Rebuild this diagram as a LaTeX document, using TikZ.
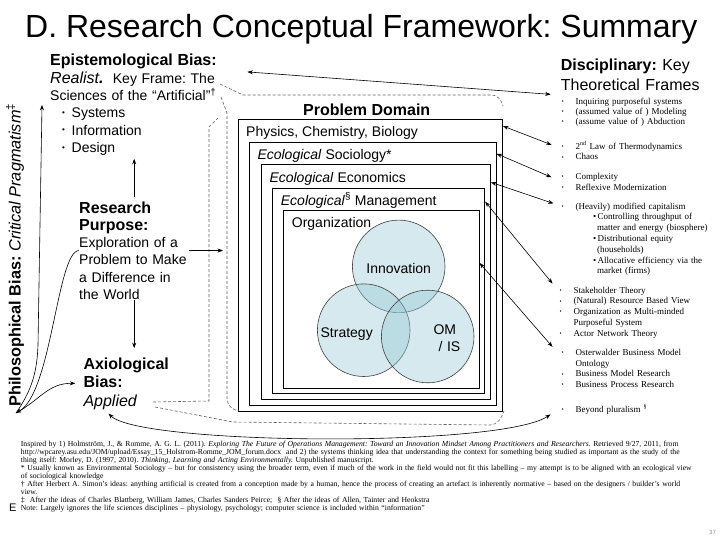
\documentclass[tikz,border=0pt]{standalone}
\usepackage{fontspec}
\setmainfont{Liberation Sans}
\newfontfamily\serifnote{Liberation Serif}
\usetikzlibrary{arrows.meta}
\frenchspacing
\definecolor{vennblue}{RGB}{150,200,212}
\definecolor{bracketgray}{RGB}{95,95,95}
\newcommand{\rbul}{\makebox[14pt][l]{\fontsize{6}{6}\selectfont\raisebox{0.8pt}{•}}}
\newcommand{\lbul}{\makebox[9.5pt][l]{\raisebox{2.5pt}{\fontsize{8}{8}\selectfont•}}}
\begin{document}
\begin{tikzpicture}[x=1pt,y=-1pt,>={Stealth[length=5.5pt,width=4pt]},
  head/.style={inner sep=0pt,font=\fontsize{16}{19}\selectfont\bfseries},
  body/.style={inner sep=0pt,font=\fontsize{14}{17.4}\selectfont,align=left},
  frame/.style={draw,line width=0.9pt,inner sep=0pt,anchor=north west},
  venn/.style={circle,draw=black!75,line width=0.6pt,fill=vennblue,fill opacity=0.4,minimum size=92.6pt,inner sep=0pt},
  theory/.style={inner sep=0pt,anchor=base west,text width=160pt,align=left,font=\serifnote\fontsize{9}{10.8}\selectfont},
  bracket/.style={draw=bracketgray,dash pattern=on 3pt off 2pt,line width=0.6pt},
  link/.style={<->,line width=0.6pt}]
  \useasboundingbox (0,0) rectangle (728,546);
  \node[anchor=base west,inner sep=0pt,font=\fontsize{32}{36}\selectfont] (title) at (25,37) {D. Research Conceptual Framework: Summary};

  \node[body,anchor=base west,text width=185pt] (epi) at (50,65.7) {{\fontsize{16}{17.4}\selectfont\bfseries Epistemological Bias:}\\
    {\fontsize{16}{17.4}\selectfont\itshape Realist\textbf{.}}\ \ Key Frame: The\\
    Sciences of the “Artificial”\textsuperscript{†}\\
    \hspace*{12pt}\lbul Systems\\
    \hspace*{12pt}\lbul Information\\
    \hspace*{12pt}\lbul Design};
  \node[body,anchor=base west,text width=160pt,font=\fontsize{16}{20}\selectfont] (disc) at (560.7,70) {\textbf{Disciplinary:} Key\\Theoretical Frames};

  \node[head,anchor=base] (pdom) at (366.7,115.5) {Problem Domain};
  \node[frame,minimum width=264pt,minimum height=292pt] (box1) at (238,119) {};
  \node[frame,minimum width=246.4pt,minimum height=263.6pt] (box2) at (249.3,141.7) {};
  \node[frame,minimum width=229.3pt,minimum height=235pt] (box3) at (260.7,164.3) {};
  \node[frame,minimum width=212pt,minimum height=205.6pt] (box4) at (272.3,187.7) {};
  \node[frame,minimum width=195.4pt,minimum height=177.7pt] (box5) at (283.3,210) {};
  \node[body,anchor=base west] (phys) at (246,136.7) {Physics, Chemistry, Biology};
  \node[body,anchor=base west] (soc) at (257.3,159.3) {\textit{Ecological} Sociology*};
  \node[body,anchor=base west] (econ) at (269.3,182.3) {\textit{Ecological} Economics};
  \node[body,anchor=base west] (mgmt) at (280.7,205) {\textit{Ecological}\textsuperscript{§} Management};
  \node[body,anchor=base west] (org) at (291.7,227.7) {Organization};

  \node[venn] (cinn) at (398.7,266.4) {};
  \node[venn] (cstr) at (363.7,330.2) {};
  \node[venn] (com) at (427.7,336.5) {};
  \node[body,anchor=base] (inn) at (398.7,273.4) {Innovation};
  \node[body,anchor=base] (str) at (346.7,337.3) {Strategy};
  \node[body,anchor=base west,text width=40pt] (om) at (433.3,334) {OM\\\hspace*{5pt}/ IS};

  \node[rotate=90,inner sep=0pt,font=\fontsize{16.3}{18}\selectfont] (philo) at (15,255) {\textbf{Philosophical Bias:} \textit{Critical Pragmatism}\textsuperscript{‡}};
  \coordinate (pbase) at (16,413);
  \node[body,anchor=base west,text width=110pt,font=\fontsize{14}{17.5}\selectfont] (purpose) at (79,213) {{\fontsize{16}{20.5}\selectfont\bfseries Research\\Purpose:}\\[-1pt]Exploration of a\\Problem to Make\\a Difference in\\the World};
  \node[body,anchor=base west,text width=90pt,font=\fontsize{14}{18.5}\selectfont] (axio) at (83.3,369) {{\fontsize{16}{20}\selectfont\bfseries Axiological\\Bias:}\\{\fontsize{16}{18.5}\selectfont\itshape Applied}};

  \node[theory,font=\serifnote\fontsize{9}{10}\selectfont] (thFrames) at (561.5,104.7) {\rbul Inquiring purposeful systems\\
    \rbul (assumed value of ) Modeling\\
    \rbul (assume value of ) Abduction};
  \node[theory] (thPhys) at (561.5,149) {\rbul 2\textsuperscript{nd} Law of Thermodynamics\\
    \rbul Chaos};
  \node[theory] (thSoc) at (561.5,179.7) {\rbul Complexity\\
    \rbul Reflexive Modernization};
  \node[theory] (thEcon) at (561.5,209) {\rbul (Heavily) modified capitalism\\
    \hspace*{31.5pt}\makebox[4.5pt][l]{•}Controlling throughput of\\
    \hspace*{35.5pt}matter and energy (biosphere)\\
    \hspace*{31.5pt}\makebox[4.5pt][l]{•}Distributional equity\\
    \hspace*{35.5pt}(households)\\
    \hspace*{31.5pt}\makebox[4.5pt][l]{•}Allocative efficiency via the\\
    \hspace*{35.5pt}market (firms)};
  \node[theory] (thMgmt) at (559.5,293) {\rbul Stakeholder Theory\\
    \rbul (Natural) Resource Based View\\
    \rbul Organization as Multi-minded\\
    \hspace*{14pt}Purposeful System\\
    \rbul Actor Network Theory};
  \node[theory] (thOrg) at (561.5,355.3) {\rbul Osterwalder Business Model\\
    \hspace*{14pt}Ontology\\
    \rbul Business Model Research\\
    \rbul Business Process Research};
  \node[theory] (thPlur) at (561.5,412.3) {\rbul Beyond pluralism \textsuperscript{§}};

  \coordinate (aLtop) at (227,113);
  \draw[bracket] (220,84) -- (243,95) -- (492,95) .. controls (498,95) and (501,100) .. (503,106);
  \draw[bracket] (221,97) -- (aLtop) -- (227,398) .. controls (227,405) and (232,410) .. (239,411);
  \draw[bracket] (153,402) -- (209,401) -- (209,127) -- (218,118);
  \draw[bracket] (155,407) -- (233,422) -- (490,425) .. controls (497,425) and (502,418) .. (504,411);

  \draw[link] ([xshift=12pt,yshift=-18pt]epi.north east) -- ([xshift=-10pt,yshift=-4pt]disc.south west);
  \draw[link] ([yshift=-7pt]box1.north east) -- ([xshift=-10pt,yshift=-4pt]thPhys.north west);
  \draw[link] ([yshift=-12pt]box2.north east) -- ([xshift=-10pt,yshift=-4pt]thSoc.north west);
  \draw[link] ([yshift=-18pt]box3.north east) -- ([xshift=-8pt,yshift=-1pt]thEcon.north west);
  \draw[link] ([yshift=-14pt]box4.north east) -- ([xshift=-7pt,yshift=3pt]thMgmt.north west);
  \draw[link] ([yshift=-53pt]box5.north east) -- ([xshift=-9pt,yshift=2pt]thOrg.north west);
  \draw[link] ([xshift=-20pt,yshift=-4pt]axio.south) .. controls (140,445) and (500,448) .. ([xshift=-11pt]thPlur.south west);

  \draw[->,line width=0.6pt,shorten <=4pt,shorten >=3pt] (purpose.north) -- (purpose.north |- epi.south);
  \draw[->,line width=0.6pt,shorten >=9pt] (purpose.south) -- (purpose.south |- axio.north);
  \draw[->,line width=0.6pt,shorten >=4pt] (purpose.east) -- (purpose.east -| aLtop);
  \draw[->,line width=0.6pt] (pbase) .. controls (32,390) and (37,372) .. (38,345) -- ([xshift=-8pt]epi.west);
  \draw[->,line width=0.6pt] (pbase) .. controls (40,400) and (48,383) .. ([xshift=-8pt]axio.west);
  \draw[->,line width=0.6pt] (purpose.west) .. controls (57,251) and (52,393) .. (pbase);

  \node[inner sep=0pt,anchor=base west,text width=720pt,align=left,font=\serifnote\fontsize{7.7}{7.95}\selectfont] (notes) at (20.7,446.7) {Inspired by 1) Holmström, J., \& Romme, A. G. L. (2011). \textit{Exploring The Future of Operations Management: Toward an Innovation Mindset Among Practitioners and Researchers.} Retrieved 9/27, 2011, from\\
    http://wpcarey.asu.edu/JOM/upload/Essay\_15\_Holstrom-Romme\_JOM\_forum.docx\ \ and 2) the systems thinking idea that understanding the context for something being studied as important as the study of the\\
    thing itself: Morley, D. (1997, 2010). \textit{Thinking, Learning and Acting Environmentally.} Unpublished manuscript.\\
    {*} Usually known as Environmental Sociology – but for consistency using the broader term, even if much of the work in the field would not fit this labelling – my attempt is to be aligned with an ecological view\\
    of sociological knowledge\\
    † After Herbert A. Simon’s ideas: anything artificial is created from a conception made by a human, hence the process of creating an artefact is inherently normative – based on the designers / builder’s world\\
    view.\\
    ‡\ \ After the ideas of Charles Blattberg, William James, Charles Sanders Peirce;\ \ § After the ideas of Allen, Tainter and Heokstra\\
    Note: Largely ignores the life sciences disciplines – physiology, psychology; computer science is included within “information”};
  \node[anchor=base west,inner sep=0pt,font=\fontsize{11}{12}\selectfont] (edge) at (9,511) {E};
  \node[anchor=base west,inner sep=0pt,font=\fontsize{6}{7}\selectfont,text=black!45] (pagenum) at (709,534) {37};
\end{tikzpicture}
\end{document}
